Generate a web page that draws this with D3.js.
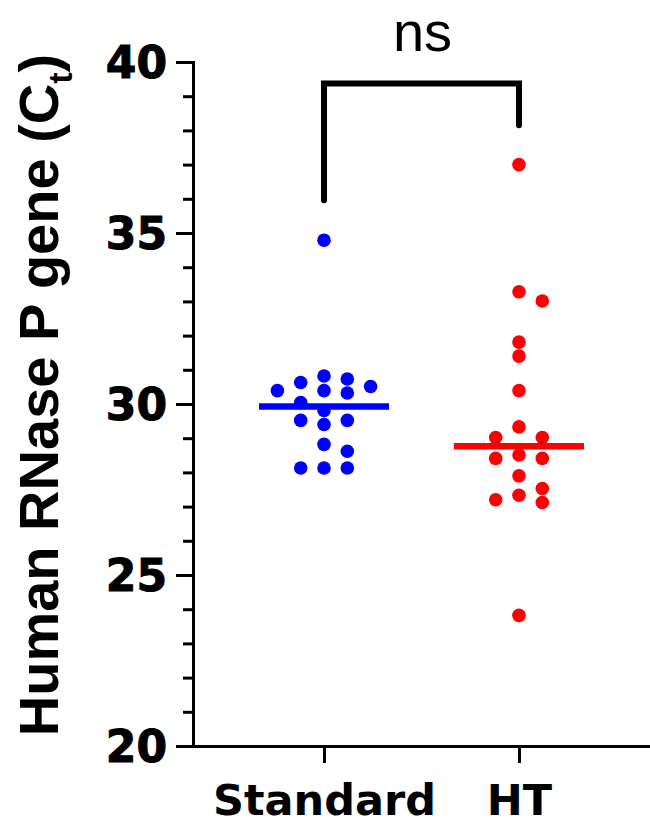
<!DOCTYPE html>
<meta charset="utf-8">
<script src="https://cdn.jsdelivr.net/npm/d3@7"></script>
<style>
body{
  margin: 0;
  background: white;
}
.axis path, .axis line{
  stroke: black;
  stroke-width: 3px;
}
.axis text{
  font-family: "DejaVu Sans", sans-serif;
  font-weight: bold;
  fill: black;
}
</style>
<body>
<div id="p1"></div>

<script>
//data (Ct values)
var groups = ["Standard", "HT"];
var colors = ["#0000ff", "#ff0000"];
var standardCt = [34.79, 30.82, 30.73, 30.63, 30.51, 30.39, 30.39, 30.32, 30.04,
                  29.81, 29.52, 29.52, 29.40, 28.82, 28.62, 28.13, 28.13, 28.13];
var htCt = [37.00, 33.28, 33.01, 31.81, 31.40, 30.39, 29.33, 29.02, 29.02,
            28.51, 28.41, 28.41, 27.90, 27.53, 27.33, 27.20, 27.12, 23.82];
var yTicks = [20, 25, 30, 35, 40];
var yMinor = d3.range(21, 40);
var sigLabel = "ns";
// bracket ends, in Ct units
var bracketTop = 39.37, bracketLeftEnd = 35.96, bracketRightEnd = 38.15;

var series = [standardCt, htCt];

width = 650
height = 825
margin = {top: 62, left: 193, bottom: 79, right: 0}
dotR = 6.8
colW = 23.3   // horizontal spacing of dots in a row
minGap = 14   // vertical gap needed to share a column

svg = d3.select('#p1')
        .append("svg")
        .attr("width", width)
        .attr("height", height)

yScale = d3.scaleLinear()
        .domain([20, 40])
        .range([height - margin.bottom, margin.top])

xScale = d3.scalePoint()
        .domain(groups)
        .range([margin.left, width])
        .padding(0.672)

//minor ticks first, majors on top
svg.append("g")
    .attr("class", "axis")
    .attr("transform", "translate(" + margin.left + ",0)")
    .call(d3.axisLeft(yScale).tickValues(yMinor).tickSize(10).tickSizeOuter(0).tickFormat(""))
    .select(".domain").remove()

yAxis = svg.append("g")
    .attr("class", "y axis")
    .attr("transform", "translate(" + margin.left + ",0)")
    .call(d3.axisLeft(yScale).tickValues(yTicks).tickSize(17).tickSizeOuter(0).tickPadding(9))
yAxis.selectAll("text")
    .attr("font-size", "44px")
    .attr("dy", "0.36em")
    .style("stroke", "black")
    .style("stroke-width", "1px")
yAxis.select(".domain").style("stroke-linecap", "square")

xAxis = svg.append("g")
    .attr("class", "x axis")
    .attr("transform", "translate(0," + (height - margin.bottom) + ")")
    .call(d3.axisBottom(xScale).tickSize(17).tickSizeOuter(0).tickPadding(21))
xAxis.selectAll("text")
    .attr("font-size", "43px")

//y axis title with subscript t
title = svg.append("text")
    .attr("transform", "rotate(-90)")
    .attr("x", -395)
    .attr("y", 58)
    .attr("text-anchor", "middle")
    .style("font-family", "'Liberation Sans', Arial, sans-serif")
    .style("font-weight", "bold")
    .style("font-size", "56px")
title.append("tspan").text("Human RNase P gene (C")
title.append("tspan").text("t").attr("dy", 14).style("font-size", "34px")
title.append("tspan").text(")").attr("dy", -14)

//simple swarm: place dots top-down in the column nearest the centre that is free
function swarm(vals){
  var placed = []
  vals.map(function(v){ return v })
      .sort(function(a, b){ return b - a })
      .forEach(function(v){
        var py = yScale(v)
        for(k = 0; k < 60; k++){
          var c = (k % 2 ? 1 : -1) * Math.ceil(k / 2) * 0.5
          var hit = placed.some(function(q){
            return Math.abs(q.c - c) < 0.999 && Math.abs(q.y - py) < minGap - 0.01
          })
          if(!hit){ placed.push({v: v, c: c, y: py}); break }
        }
      })
  return placed
}

series.forEach(function(vals, i){
  var cx = xScale(groups[i])
  var pts = swarm(vals)
  var med = d3.median(vals)

  svg.append("g")
    .selectAll("circle")
    .data(pts).enter()
    .append("circle")
      .attr("cx", function(d){ return cx + d.c * colW })
      .attr("cy", function(d){ return yScale(d.v) })
      .attr("r", dotR)
      .attr("fill", colors[i])

  svg.append("line")
    .attr("x1", cx - 65)
    .attr("x2", cx + 65)
    .attr("y1", yScale(med))
    .attr("y2", yScale(med))
    .attr("stroke", colors[i])
    .attr("stroke-width", 6.5)
})

//significance bracket
x0 = xScale(groups[0])
x1 = xScale(groups[1])
svg.append("path")
  .attr("d", "M" + x0 + "," + yScale(bracketLeftEnd) +
             "V" + yScale(bracketTop) +
             "H" + x1 +
             "V" + yScale(bracketRightEnd))
  .attr("fill", "none")
  .attr("stroke", "black")
  .attr("stroke-width", 6)
  .attr("stroke-linecap", "round")
  .attr("stroke-linejoin", "miter")

svg.append("text")
  .attr("x", (x0 + x1) / 2 + 1)
  .attr("y", 51)
  .attr("text-anchor", "middle")
  .style("font-family", "'Liberation Sans', Arial, sans-serif")
  .style("font-size", "56px")
  .text(sigLabel)
</script>
</body>
